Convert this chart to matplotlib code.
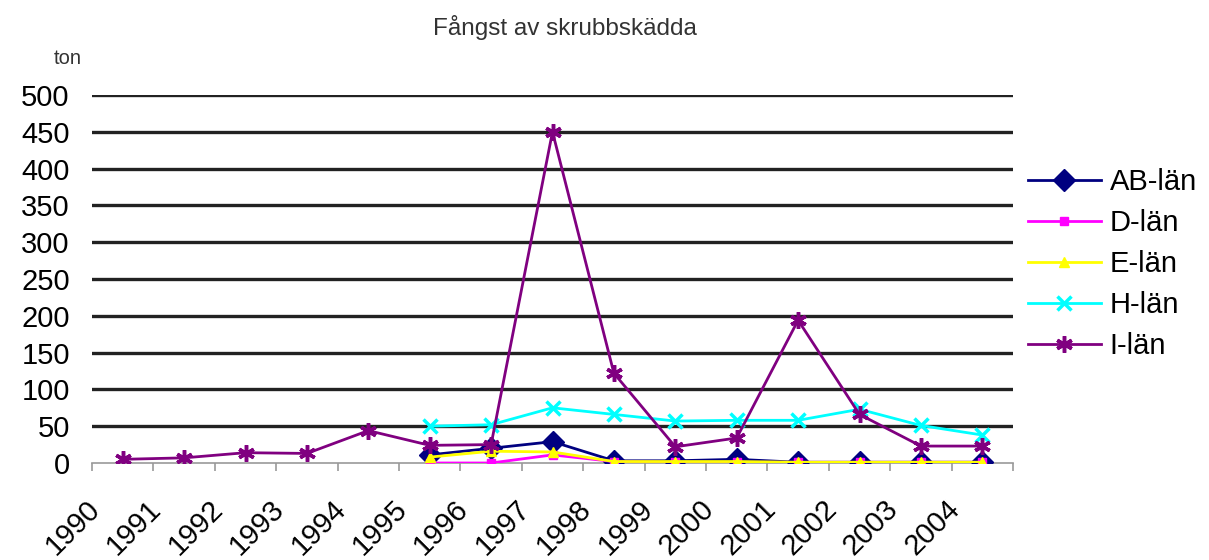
import matplotlib
matplotlib.use("Agg")
import matplotlib.pyplot as plt
from matplotlib.transforms import ScaledTranslation
import numpy as np

years = ["1990", "1991", "1992", "1993", "1994", "1995", "1996", "1997",
         "1998", "1999", "2000", "2001", "2002", "2003", "2004"]
years_late = years[5:]

ab_lan = [11, 20, 29, 3, 3, 5, 1, 1, 1, 1]
d_lan = [0, 0, 11, 2, 1, 1, 1, 1, 1, 1]
e_lan = [8, 16, 15, 2, 2, 2, 1, 1, 1, 1]
h_lan = [50, 52, 75, 66, 57, 58, 58, 73, 51, 38]
i_lan = [5, 7, 14, 13, 44, 24, 25, 450, 122, 22, 34, 194, 66, 23, 23]

yticks = list(range(0, 501, 50))

plt.rcParams['font.family'] = ['Liberation Sans', 'DejaVu Sans']

fig = plt.figure(figsize=(12.09, 5.60), dpi=100)
ax = fig.add_axes([92/1209, 1 - 463/560, (1013 - 92)/1209, (463 - 95)/560])

x_all = np.arange(len(years))
x_late = x_all[5:]

series = [
    ("AB-län", x_late, ab_lan, "#000080", "D", 11, 1.0),
    ("D-län", x_late, d_lan, "#FF00FF", "s", 6, 1.0),
    ("E-län", x_late, e_lan, "#FFFF00", "^", 7, 1.0),
    ("H-län", x_late, h_lan, "#00FFFF", "x", 10, 2.5),
    ("I-län", x_all, i_lan, "#800080", (6, 2, 0), 12, 2.5),
]
handles = []
for name, xs, ys, col, mk, ms, mew in series:
    h, = ax.plot(xs, ys, color=col, lw=2.0, marker=mk, markersize=ms,
                 markeredgewidth=mew, markerfacecolor=col, markeredgecolor=col,
                 label=name, zorder=3)
    handles.append(h)

ax.set_ylim(0, 500)
ax.set_xlim(-0.5, len(years) - 0.5)
ax.set_yticks(yticks)
ax.set_yticklabels([str(v) for v in yticks], fontsize=21)
ax.tick_params(axis='y', length=0, pad=16)
for v in yticks[1:]:
    ax.axhline(v, color='#222222', lw=2.4, zorder=1)

ax.set_xticks(x_all)
ax.set_xticklabels(years, fontsize=21, rotation=45, ha='right',
                   rotation_mode='anchor', va='center')
ax.tick_params(axis='x', length=0, pad=30)
ax.set_xticks(np.arange(-0.5, len(years), 1.0), minor=True)
ax.tick_params(axis='x', which='minor', length=6, color='#999999', width=1.2)
off = ScaledTranslation(-0.27, 0, fig.dpi_scale_trans)
for lab in ax.get_xticklabels():
    lab.set_transform(lab.get_transform() + off)

for s in ['left', 'right', 'top']:
    ax.spines[s].set_visible(False)
ax.spines['bottom'].set_color('#999999')
ax.spines['bottom'].set_linewidth(1.2)

fig.text(565/1209, 1 - 28/560, "Fångst av skrubbskädda", fontsize=17.5,
         ha='center', va='center', color='#333333')
fig.text(68/1209, 1 - 58/560, "ton", fontsize=14.5, ha='center', va='center',
         color='#333333')

fig.legend(handles=handles, loc='upper left',
           bbox_to_anchor=(1028/1209, 1 - 168/560), frameon=False,
           fontsize=21, handlelength=2.5, handletextpad=0.3,
           labelspacing=0.45, borderpad=0, borderaxespad=0)

fig.savefig("out.png", dpi=100, facecolor='white')
